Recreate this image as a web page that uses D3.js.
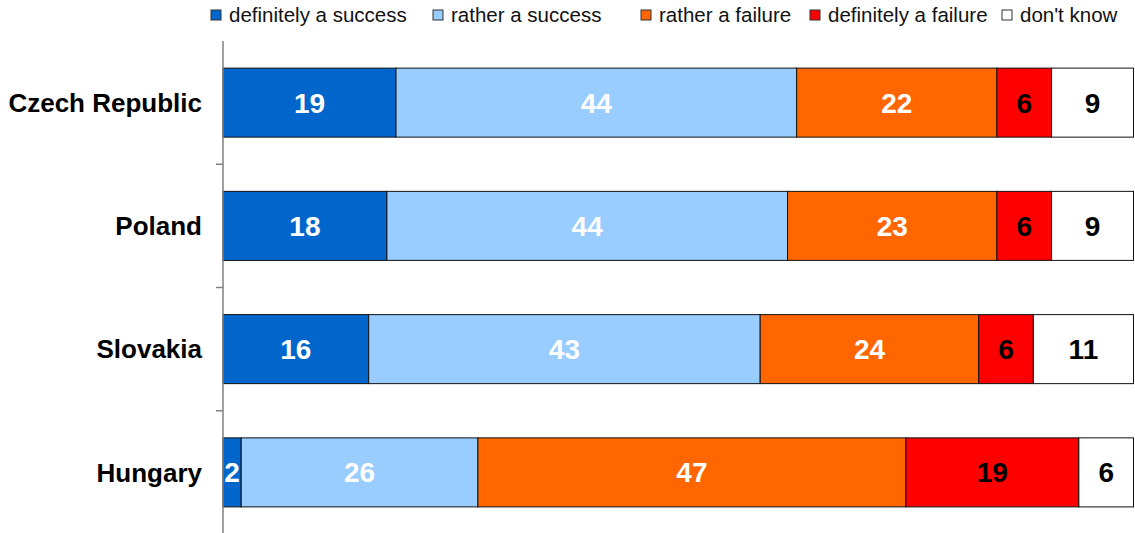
<!DOCTYPE html>
<html>
<head>
<meta charset="utf-8">
<script src="https://cdn.jsdelivr.net/npm/d3@7"></script>
<style>
  body { margin: 0; background: #fff; }
  text { font-family: "Liberation Sans", Arial, sans-serif; }
</style>
</head>
<body>
<div id="chart"></div>
<script>
// Survey answers per country (percent)
const countries = ["Czech Republic", "Poland", "Slovakia", "Hungary"];
const answers = ["definitely a success", "rather a success", "rather a failure", "definitely a failure", "don't know"];
const definitelySuccess = [19, 18, 16, 2];
const ratherSuccess = [44, 44, 43, 26];
const ratherFailure = [22, 23, 24, 47];
const definitelyFailure = [6, 6, 6, 19];
const dontKnow = [9, 9, 11, 6];

const colours = ["#0066cc", "#99ccff", "#ff6600", "#ff0000", "#ffffff"];
const labelColours = ["#fff", "#fff", "#fff", "#000", "#000"];

const width = 1135, height = 533;
const margin = { top: 41, right: 1, bottom: -1, left: 223 };

// Build rows for the stack layout
const rows = countries.map((c, i) => ({
  country: c,
  [answers[0]]: definitelySuccess[i],
  [answers[1]]: ratherSuccess[i],
  [answers[2]]: ratherFailure[i],
  [answers[3]]: definitelyFailure[i],
  [answers[4]]: dontKnow[i]
}));

const series = d3.stack().keys(answers)(rows);

const svg = d3.select("#chart").append("svg")
  .attr("width", width)
  .attr("height", height);

const x = d3.scaleLinear()
  .domain([0, 100])
  .range([margin.left, width - margin.right - 0.5]);

const y = d3.scaleBand()
  .domain(countries)
  .range([margin.top, height - margin.bottom])
  .paddingInner(0.44)
  .paddingOuter(0.22);

// Bars
const groups = svg.append("g")
  .selectAll("g")
  .data(series)
  .join("g")
  .attr("fill", (d, i) => colours[i]);

groups.selectAll("rect")
  .data(d => d)
  .join("rect")
  .attr("x", d => x(d[0]))
  .attr("y", d => y(d.data.country))
  .attr("width", d => x(d[1]) - x(d[0]))
  .attr("height", y.bandwidth())
  .attr("stroke", "#111")
  .attr("stroke-width", 1);

// Value labels
groups.selectAll("text")
  .data((d, i) => d.map(v => ({ v, i })))
  .join("text")
  .attr("x", d => (x(d.v[0]) + x(d.v[1])) / 2)
  .attr("y", d => y(d.v.data.country) + y.bandwidth() / 2)
  .attr("dy", "0.36em")
  .attr("text-anchor", "middle")
  .attr("font-size", 28)
  .attr("font-weight", "bold")
  .attr("fill", d => labelColours[d.i])
  .text(d => d.v[1] - d.v[0]);

// Category axis
const step = y.step();
const boundaries = countries.slice(1).map(c => y(c) - step * y.paddingInner() / 2);

const axis = svg.append("g");
axis.append("line")
  .attr("x1", margin.left).attr("x2", margin.left)
  .attr("y1", margin.top).attr("y2", height)
  .attr("stroke", "#808080")
  .attr("stroke-width", 1.5);

axis.selectAll(".tick")
  .data(boundaries)
  .join("line")
  .attr("class", "tick")
  .attr("x1", margin.left - 7).attr("x2", margin.left)
  .attr("y1", d => d).attr("y2", d => d)
  .attr("stroke", "#808080")
  .attr("stroke-width", 1.5);

axis.selectAll(".cat")
  .data(countries)
  .join("text")
  .attr("class", "cat")
  .attr("x", 202)
  .attr("y", d => y(d) + y.bandwidth() / 2)
  .attr("dy", "0.36em")
  .attr("text-anchor", "end")
  .attr("font-size", 26)
  .attr("font-weight", "bold")
  .attr("fill", "#000")
  .text(d => d);

// Legend
const legendX = [211, 433, 641, 810, 1002];
const legend = svg.append("g")
  .selectAll("g")
  .data(answers)
  .join("g")
  .attr("transform", (d, i) => `translate(${legendX[i]}, 10)`);

legend.append("rect")
  .attr("width", 10)
  .attr("height", 10)
  .attr("fill", (d, i) => colours[i])
  .attr("stroke", "#333")
  .attr("stroke-width", 1);

legend.append("text")
  .attr("x", 18)
  .attr("y", 5)
  .attr("dy", "0.36em")
  .attr("font-size", 20.5)
  .attr("fill", "#111")
  .text(d => d);
</script>
</body>
</html>
